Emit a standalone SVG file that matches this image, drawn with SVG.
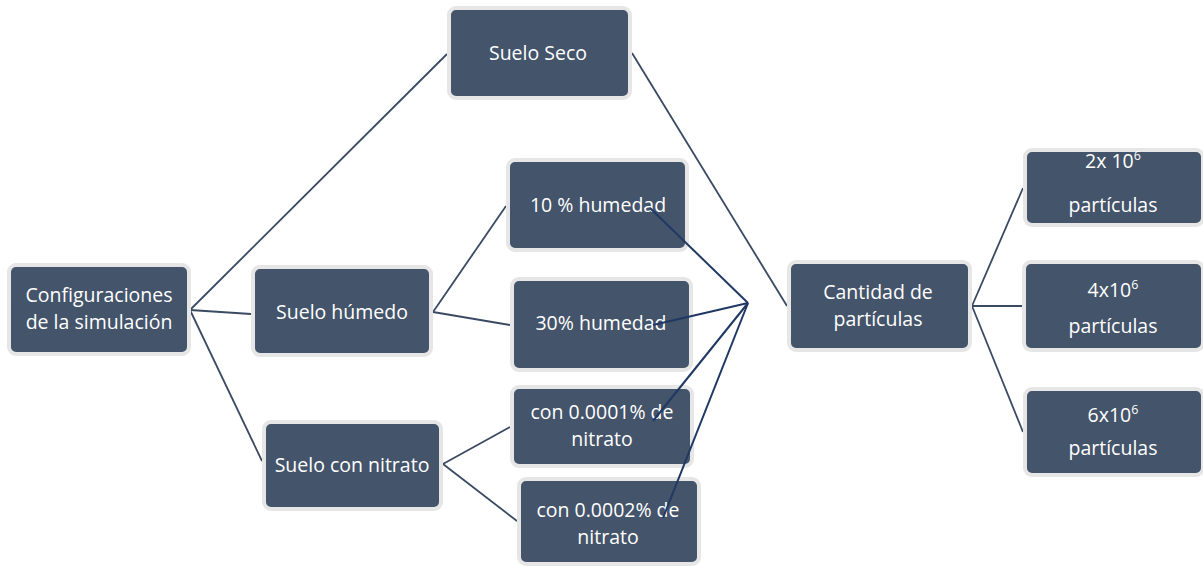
<svg xmlns="http://www.w3.org/2000/svg" width="1203" height="566" viewBox="0 0 1203 566">
<style>
.box{fill:#44546A;stroke:#E6E6E6;stroke-width:4}
.t{font-family:"Open Sans","Liberation Sans",sans-serif;font-size:19.5px;fill:#FFFFFF;text-anchor:middle}
.sup{font-size:12.5px}
.c{stroke:#3A4A62;stroke-width:1.8;fill:none}
.n{stroke:#203864;stroke-width:2;fill:none}
</style>
<rect width="1203" height="566" fill="#FFFFFF"/>
<g id="connectors">
<line class="c" x1="190" y1="310" x2="447" y2="54"/>
<line class="c" x1="190" y1="310" x2="251" y2="314"/>
<line class="c" x1="190" y1="310" x2="262" y2="461"/>
<line class="c" x1="433" y1="312" x2="506" y2="206"/>
<line class="c" x1="433" y1="312" x2="510" y2="325"/>
<line class="c" x1="443" y1="464" x2="510" y2="427"/>
<line class="c" x1="443" y1="464" x2="517" y2="521"/>
<line class="c" x1="632" y1="53" x2="787" y2="306"/>
<line class="c" x1="972" y1="306" x2="1023" y2="188"/>
<line class="c" x1="972" y1="306" x2="1022" y2="306"/>
<line class="c" x1="972" y1="306" x2="1023" y2="432"/>
</g>
<g id="config"><rect class="box" x="9" y="265" width="180" height="89" rx="7"/><text class="t" x="99" y="302">Configuraciones</text><text class="t" x="99" y="329">de la simulación</text></g>
<g id="seco"><rect class="box" x="449" y="8" width="181" height="90" rx="7"/><text class="t" x="538" y="60">Suelo Seco</text></g>
<g id="humedo"><rect class="box" x="253" y="267" width="178" height="88" rx="7"/><text class="t" x="342" y="319">Suelo húmedo</text></g>
<g id="nitrato"><rect class="box" x="264" y="422" width="177" height="87" rx="7"/><text class="t" x="352" y="472">Suelo con nitrato</text></g>
<g id="h10"><rect class="box" x="508" y="160" width="179" height="90" rx="7"/><text class="t" x="598" y="212">10 % humedad</text></g>
<g id="h30"><rect class="box" x="512" y="279" width="179" height="91" rx="7"/><text class="t" x="601" y="330">30% humedad</text></g>
<g id="n1"><rect class="box" x="512" y="387" width="180" height="79" rx="7"/><text class="t" x="602" y="419">con 0.0001% de</text><text class="t" x="602" y="446">nitrato</text></g>
<g id="n2"><rect class="box" x="519" y="479" width="180" height="85" rx="7"/><text class="t" x="608" y="517">con 0.0002% de</text><text class="t" x="608" y="544">nitrato</text></g>
<g id="cantidad"><rect class="box" x="789" y="262" width="181" height="88" rx="7"/><text class="t" x="878" y="299">Cantidad de</text><text class="t" x="878" y="326">partículas</text></g>
<g id="p2"><rect class="box" x="1025" y="150" width="178" height="75" rx="7"/><text class="t" x="1113" y="168">2x 10<tspan class="sup" dy="-8">6</tspan></text><text class="t" x="1113" y="212">partículas</text></g>
<g id="p4"><rect class="box" x="1024" y="262" width="179" height="88" rx="7"/><text class="t" x="1113" y="297">4x10<tspan class="sup" dy="-8">6</tspan></text><text class="t" x="1113" y="333">partículas</text></g>
<g id="p6"><rect class="box" x="1025" y="389" width="178" height="86" rx="7"/><text class="t" x="1113" y="422">6x10<tspan class="sup" dy="-8">6</tspan></text><text class="t" x="1113" y="455">partículas</text></g>
<g id="overlay">
<line class="n" x1="748" y1="303" x2="650" y2="208"/>
<line class="n" x1="748" y1="303" x2="653" y2="325"/>
<line class="n" x1="748" y1="303" x2="653" y2="421"/>
<line class="n" x1="748" y1="303" x2="663" y2="518"/>
</g>
</svg>
